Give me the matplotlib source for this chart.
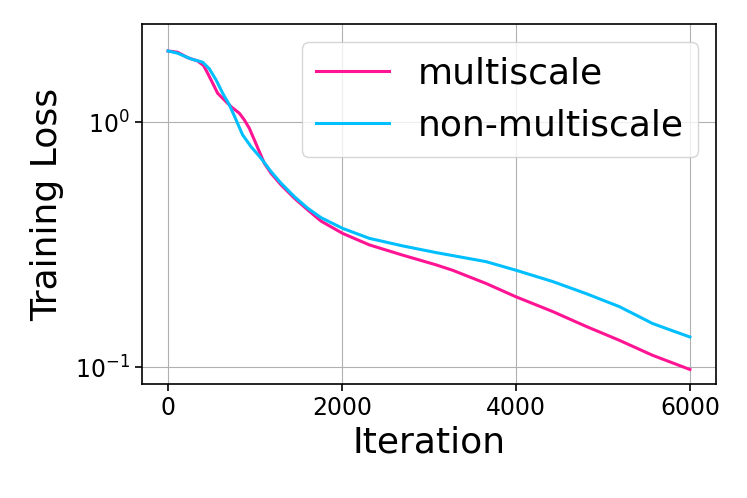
import matplotlib
matplotlib.use("Agg")
import matplotlib.pyplot as plt

# multiscale (pink)
iters_ms = [0, 110, 225, 340, 409, 455, 513, 570, 647, 724, 820, 877, 934, 992, 1049,
            1107, 1184, 1299, 1452, 1605, 1759, 2007, 2314, 2697, 3080, 3271, 3655,
            4000, 4421, 4805, 5187, 5570, 6000]
loss_ms = [1.954, 1.931, 1.835, 1.779, 1.702, 1.585, 1.443, 1.313, 1.233, 1.158, 1.088,
           1.022, 0.945, 0.847, 0.759, 0.680, 0.619, 0.555, 0.490, 0.439, 0.395, 0.352,
           0.316, 0.287, 0.262, 0.249, 0.220, 0.194, 0.169, 0.147, 0.129, 0.112, 0.098]

# non-multiscale (cyan)
iters_nm = [0, 110, 264, 398, 475, 552, 628, 705, 782, 857, 954, 1069, 1184, 1299, 1452,
            1605, 1759, 2007, 2314, 2697, 3080, 3655, 4000, 4421, 4805, 5187, 5379, 5570,
            5800, 6000]
loss_nm = [1.954, 1.913, 1.813, 1.758, 1.651, 1.488, 1.313, 1.177, 1.022, 0.888, 0.795,
           0.713, 0.629, 0.564, 0.497, 0.446, 0.408, 0.369, 0.336, 0.313, 0.294, 0.270,
           0.249, 0.224, 0.200, 0.177, 0.1635, 0.151, 0.141, 0.133]

xticks = [0, 2000, 4000, 6000]

fig = plt.figure(figsize=(7.47, 4.98), dpi=100)
ax = fig.add_axes([142/747, 1 - 384/498, (716-142)/747, (384-24)/498])

ax.plot(iters_ms, loss_ms, color="#FF1493", lw=2.2, label="multiscale",
        solid_joinstyle="round")
ax.plot(iters_nm, loss_nm, color="#00BFFF", lw=2.2, label="non-multiscale",
        solid_joinstyle="round")

ax.set_yscale("log")
ax.set_xlim(-300, 6300)
ax.set_ylim(10**-1.068, 10**0.401)
ax.set_xticks(xticks)
ax.minorticks_off()
ax.grid(True, which="major", color="#b0b0b0", lw=0.8)

ax.tick_params(axis="both", which="major", labelsize=17, length=5, width=1.2)
for s in ax.spines.values():
    s.set_linewidth(1.2)

ax.set_xlabel("Iteration", fontsize=26, labelpad=4)
ax.set_ylabel("Training Loss", fontsize=26, labelpad=8)

leg = ax.legend(loc="upper right", fontsize=26, framealpha=0.8)

fig.savefig("out.png", dpi=100)
